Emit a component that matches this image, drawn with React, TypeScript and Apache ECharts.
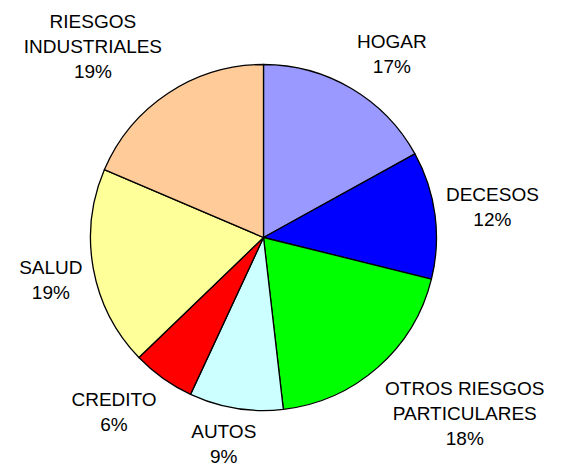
import React, { useEffect, useRef } from "react";
import * as echarts from "echarts";

const categories = [
  "HOGAR",
  "DECESOS",
  "OTROS RIESGOS\nPARTICULARES",
  "AUTOS",
  "CREDITO",
  "SALUD",
  "RIESGOS\nINDUSTRIALES",
];
const shares = [16.97, 11.89, 19.31, 8.76, 5.87, 18.61, 18.59];
const percentLabels = ["17%", "12%", "18%", "9%", "6%", "19%", "19%"];
const colors = ["#9999FF", "#0000FF", "#00FF00", "#CCFFFF", "#FF0000", "#FFFF99", "#FFCC99"];

const CX = 263.5;
const CY = 237.5;
const R = 173;
const GAP = 11;

export default function App() {
  const ref = useRef<HTMLDivElement>(null);
  useEffect(() => {
    if (!ref.current) return;
    const chart = echarts.init(ref.current, undefined, { renderer: "svg" });
    const total = shares.reduce((a, b) => a + b, 0);
    const clamp = (v: number) => Math.max(-1, Math.min(1, v));
    chart.setOption({
      animation: false,
      backgroundColor: "#ffffff",
      series: [
        {
          type: "pie",
          center: [CX, CY],
          radius: [0, R],
          startAngle: 90,
          clockwise: true,
          avoidLabelOverlap: false,
          data: categories.map((name, i) => ({
            name,
            value: shares[i],
            itemStyle: { color: colors[i] },
          })),
          itemStyle: { borderColor: "#000000", borderWidth: 1.3 },
          label: {
            show: true,
            position: "outside",
            formatter: (p: any) => `${p.name}\n${percentLabels[p.dataIndex]}`,
            fontFamily: "Liberation Sans, Arial, sans-serif",
            fontSize: 19,
            lineHeight: 25,
            color: "#000000",
            align: "center",
          },
          labelLine: { show: false },
          labelLayout: (params: any) => {
            const i = params.dataIndex;
            let cum = 0;
            for (let k = 0; k < i; k++) cum += shares[k];
            const theta = (2 * Math.PI * (cum + shares[i] / 2)) / total;
            const s = Math.sin(theta);
            const c = Math.cos(theta);
            const px = CX + (R + GAP) * s;
            const py = CY - (R + GAP) * c;
            const hw = params.labelRect.width / 2;
            const hh = params.labelRect.height / 2;
            return {
              x: px + hw * clamp(2 * s),
              y: py - hh * clamp(2 * c),
              align: "center",
              verticalAlign: "middle",
            };
          },
        },
      ],
    });
    return () => chart.dispose();
  }, []);
  return (
    <div
      ref={ref}
      style={{ position: "fixed", left: 0, top: 0, width: 570, height: 469 }}
    />
  );
}
